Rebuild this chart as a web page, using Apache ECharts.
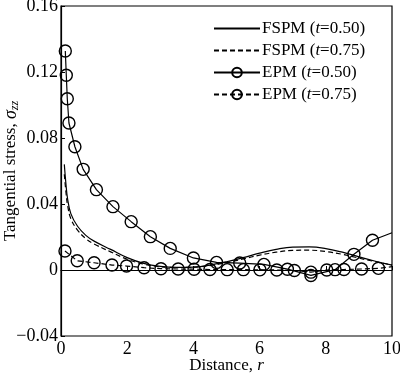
<!DOCTYPE html>
<html>
<head>
<meta charset="utf-8">
<script src="https://cdn.jsdelivr.net/npm/echarts@6/dist/echarts.min.js"></script>
<style>html,body{margin:0;padding:0;background:#fff}#c{width:400px;height:378px}</style>
</head>
<body>
<div id="c"></div>
<script>
// FSPM curves
var fspmX   = [0.1, 0.15, 0.2, 0.3, 0.5, 0.75, 1.0, 1.5, 2.0, 2.5, 3.0, 3.5, 4.0, 4.5, 5.0, 5.5, 6.0, 6.5, 7.0, 7.5, 8.0, 8.5, 9.0, 9.5, 10.0];
var fspm050 = [0.064, 0.052, 0.043, 0.034, 0.0265, 0.021, 0.0175, 0.0125, 0.0075, 0.004, 0.0022, 0.0016, 0.0018, 0.003, 0.005, 0.0075, 0.0102, 0.0125, 0.0139, 0.014, 0.013, 0.0108, 0.008, 0.0053, 0.003];
var fspm075 = [0.058, 0.047, 0.039, 0.031, 0.0242, 0.019, 0.0158, 0.011, 0.0065, 0.0035, 0.002, 0.0015, 0.0017, 0.0027, 0.0045, 0.0067, 0.009, 0.0108, 0.0119, 0.012, 0.0112, 0.0095, 0.0072, 0.005, 0.003];
// EPM t=0.50 (circles), last value is line end without marker
var epm050X = [0.13, 0.16, 0.19, 0.24, 0.42, 0.67, 1.07, 1.57, 2.12, 2.70, 3.30, 4.00, 4.70, 5.40, 6.13, 6.84, 7.55, 8.28, 8.85, 9.41, 10.0];
var epm050Y = [0.1327, 0.118, 0.1038, 0.0891, 0.0747, 0.061, 0.0487, 0.0384, 0.0293, 0.0202, 0.0131, 0.0073, 0.0046, 0.0042, 0.0034, 0.0005, -0.0033, 0.0002, 0.0095, 0.018, 0.0226];
// EPM t=0.75
var epm075X = [0.12, 0.49, 1.0, 1.54, 1.98, 2.51, 3.02, 3.54, 4.02, 4.5, 5.02, 5.51, 6.01, 6.52, 7.05, 7.55, 8.03, 8.55, 9.08, 9.59, 10.0];
var epm075Y = [0.0115, 0.0056, 0.0044, 0.003, 0.0024, 0.0014, 0.0008, 0.0006, 0.0005, 0.0003, 0.0002, 0.0002, 0.0001, 0.0, -0.0003, -0.0013, 0.0, 0.0003, 0.0006, 0.001, 0.002];
var xTicks = [0, 2, 4, 6, 8, 10];
var yTicks = [-0.04, 0, 0.04, 0.08, 0.12, 0.16];
var seriesNames = ['FSPM (t=0.50)', 'FSPM (t=0.75)', 'EPM (t=0.50)', 'EPM (t=0.75)'];

function pairs(xs, ys) {
  return xs.map(function (x, i) {
    var d = { value: [x, ys[i]] };
    if (i === xs.length - 1 && x === 10) d.symbol = 'none';
    return d;
  });
}
function simple(xs, ys) { return xs.map(function (x, i) { return [x, ys[i]]; }); }

var font = 'Liberation Serif, Times New Roman, serif';
var hidden = { color: 'transparent', borderColor: 'transparent', borderWidth: 0, opacity: 0 };
var chart = echarts.init(document.getElementById('c'), null, { renderer: 'canvas' });
chart.setOption({
  animation: false,
  backgroundColor: '#fff',
  grid: { left: 61, right: 8, top: 6, bottom: 42, outerBoundsMode: 'none', containLabel: false, show: true, borderColor: '#000', borderWidth: 1.2, backgroundColor: 'transparent' },
  legend: {
    orient: 'vertical', left: 213, top: 20, padding: 0, itemWidth: 46, itemHeight: 12, itemGap: 5,
    data: [
      { name: seriesNames[0], itemStyle: hidden },
      { name: seriesNames[1], itemStyle: hidden },
      { name: seriesNames[2] },
      { name: seriesNames[3] }
    ],
    formatter: function (n) {
      var m = n.match(/^(\w+) \(t(=.*)\)$/);
      return '{n|' + m[1] + ' (}{i|t}{n|' + m[2] + ')}';
    },
    textStyle: {
      color: '#000', fontFamily: font, fontSize: 17, padding: [0, 0, 0, -3],
      rich: {
        n: { color: '#000', fontFamily: font, fontSize: 17, lineHeight: 14 },
        i: { color: '#000', fontFamily: font, fontSize: 17, fontStyle: 'italic', lineHeight: 14 }
      }
    }
  },
  xAxis: {
    type: 'value', min: 0, max: 10, interval: 2,
    name: '{n|Distance, }{i|r}', nameLocation: 'middle', nameGap: 21, nameMoveOverlap: false,
    nameTextStyle: { verticalAlign: 'top', rich: { n: { fontFamily: font, fontSize: 17, color: '#000' }, i: { fontFamily: font, fontSize: 17, color: '#000', fontStyle: 'italic' } } },
    axisLine: { show: true, lineStyle: { color: '#000', width: 1.2 } },
    axisTick: { show: true, inside: true, length: 4, lineStyle: { color: '#000' } },
    axisLabel: { color: '#000', fontFamily: font, fontSize: 18, margin: 4, formatter: function (v) { return xTicks.indexOf(v) >= 0 ? String(v) : ''; } },
    splitLine: { show: false }
  },
  yAxis: {
    type: 'value', min: -0.04, max: 0.16, interval: 0.04,
    name: '{n|Tangential stress, }{s|σ}{z|zz}', nameLocation: 'middle', nameGap: 40, nameRotate: 90, nameMoveOverlap: false,
    nameTextStyle: { rich: {
      n: { fontFamily: font, fontSize: 17, color: '#000' },
      s: { fontFamily: font, fontSize: 18, color: '#000', fontStyle: 'italic' },
      z: { fontFamily: font, fontSize: 12, color: '#000', fontStyle: 'italic', verticalAlign: 'bottom', padding: [8, 0, 0, 0] }
    } },
    axisLine: { show: true, lineStyle: { color: '#000', width: 1.2 } },
    axisTick: { show: true, inside: true, length: 4, lineStyle: { color: '#000' } },
    axisLabel: { color: '#000', fontFamily: font, fontSize: 18, margin: 3, formatter: function (v) {
      var r = Math.round(v * 100) / 100;
      if (r === 0) return '0';
      return r.toFixed(2).replace('-', '\u2212');
    } },
    splitLine: { show: false }
  },
  series: [
    { name: seriesNames[0], type: 'line', smooth: 0.4, showSymbol: false, symbol: 'none', data: simple(fspmX, fspm050), lineStyle: { color: '#000', width: 1.2, type: 'solid' }, itemStyle: { color: '#000' } },
    { name: seriesNames[1], type: 'line', smooth: 0.4, showSymbol: false, symbol: 'none', data: simple(fspmX, fspm075), lineStyle: { color: '#000', width: 1.2, type: [5, 3] }, itemStyle: { color: '#000' } },
    { name: seriesNames[2], type: 'line', symbol: 'circle', symbolSize: 12, showAllSymbol: true, data: pairs(epm050X, epm050Y), lineStyle: { color: '#000', width: 1.2, type: 'solid' }, itemStyle: { color: 'transparent', borderColor: '#000', borderWidth: 1.4 } },
    { name: seriesNames[3], type: 'line', symbol: 'circle', symbolSize: 12, showAllSymbol: true, data: pairs(epm075X, epm075Y), lineStyle: { color: '#000', width: 1.2, type: [5, 3] }, itemStyle: { color: 'transparent', borderColor: '#000', borderWidth: 1.4 } }
  ]
});
</script>
</body>
</html>
